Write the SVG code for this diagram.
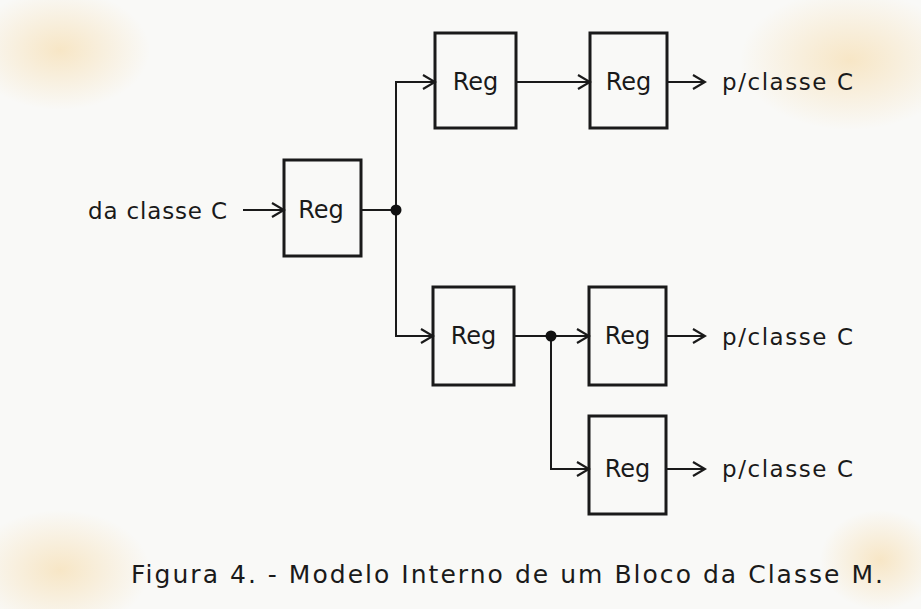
<svg xmlns="http://www.w3.org/2000/svg" width="921" height="609" viewBox="0 0 921 609">
  <defs>
    <marker id="arr" markerWidth="16" markerHeight="16" refX="14" refY="8" orient="auto" markerUnits="userSpaceOnUse">
      <path d="M2,1 L14,8 L2,15" fill="none" stroke="#1a1a1a" stroke-width="2.2" stroke-linejoin="miter"/>
    </marker>
    <radialGradient id="stain">
      <stop offset="0" stop-color="#f5cf8a" stop-opacity="0.45"/>
      <stop offset="1" stop-color="#f5cf8a" stop-opacity="0"/>
    </radialGradient>
    <style>
      .box { fill: none; stroke: #1a1a1a; stroke-width: 3; }
      .reg { font-family: "DejaVu Sans", "Liberation Sans", sans-serif; font-size: 24px; fill: #1a1a1a; text-anchor: middle; }
      .lbl { font-family: "DejaVu Sans", "Liberation Sans", sans-serif; font-size: 23px; fill: #1a1a1a; }
      .cap { font-family: "DejaVu Sans", "Liberation Sans", sans-serif; font-size: 25px; fill: #1a1a1a; }
      .ln { fill: none; stroke: #1a1a1a; stroke-width: 2; }
      .arrow { marker-end: url(#arr); }
      .dot { fill: #111; }
    </style>
  </defs>

  <rect width="921" height="609" fill="#f9f9f7"/>
  <ellipse cx="60" cy="50" rx="90" ry="60" fill="url(#stain)"/>
  <ellipse cx="850" cy="60" rx="110" ry="70" fill="url(#stain)"/>
  <ellipse cx="60" cy="570" rx="90" ry="60" fill="url(#stain)"/>
  <ellipse cx="880" cy="560" rx="60" ry="50" fill="url(#stain)"/>

  <g id="connectors">
    <line class="ln arrow" x1="243" y1="210" x2="284" y2="210"/>
    <line class="ln" x1="361" y1="210" x2="396" y2="210"/>
    <polyline class="ln" points="435,82 396,82 396,336 433,336"/>
    <line class="ln arrow" x1="410" y1="82" x2="435" y2="82"/>
    <line class="ln arrow" x1="410" y1="336" x2="433" y2="336"/>
    <line class="ln arrow" x1="516" y1="82" x2="590" y2="82"/>
    <line class="ln arrow" x1="667" y1="82" x2="705" y2="82"/>
    <line class="ln arrow" x1="514" y1="336" x2="589" y2="336"/>
    <polyline class="ln arrow" points="551,336 551,469 589,469"/>
    <line class="ln arrow" x1="666" y1="336" x2="705" y2="336"/>
    <line class="ln arrow" x1="666" y1="469" x2="705" y2="469"/>
    <circle class="dot" cx="396" cy="210" r="5.5"/>
    <circle class="dot" cx="551" cy="336" r="5.5"/>
  </g>

  <g id="in-label">
    <text class="lbl" x="88" y="219" textLength="139" lengthAdjust="spacing">da classe C</text>
  </g>

  <g id="reg-a">
    <rect class="box" x="284" y="160" width="77" height="96"/>
    <text class="reg" x="321" y="218">Reg</text>
  </g>
  <g id="reg-b">
    <rect class="box" x="435" y="33" width="81" height="95"/>
    <text class="reg" x="475.5" y="90">Reg</text>
  </g>
  <g id="reg-c">
    <rect class="box" x="590" y="33" width="77" height="95"/>
    <text class="reg" x="628.5" y="90">Reg</text>
  </g>
  <g id="reg-d">
    <rect class="box" x="433" y="287" width="81" height="98"/>
    <text class="reg" x="473.5" y="344">Reg</text>
  </g>
  <g id="reg-e">
    <rect class="box" x="589" y="287" width="77" height="98"/>
    <text class="reg" x="627.5" y="344">Reg</text>
  </g>
  <g id="reg-f">
    <rect class="box" x="589" y="416" width="77" height="98"/>
    <text class="reg" x="627.5" y="477">Reg</text>
  </g>

  <g id="out-labels">
    <text class="lbl" x="722" y="90" textLength="131" lengthAdjust="spacing">p/classe C</text>
    <text class="lbl" x="722" y="345" textLength="131" lengthAdjust="spacing">p/classe C</text>
    <text class="lbl" x="722" y="477" textLength="131" lengthAdjust="spacing">p/classe C</text>
  </g>

  <g id="caption">
    <text class="cap" x="131" y="583" textLength="752" lengthAdjust="spacing">Figura 4. - Modelo Interno de um Bloco da Classe M.</text>
  </g>
</svg>
